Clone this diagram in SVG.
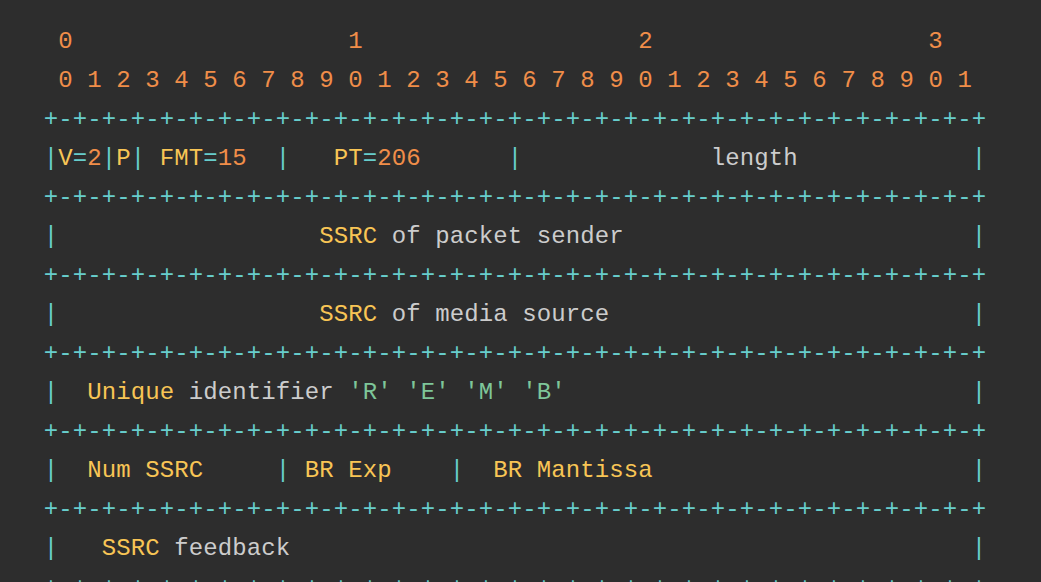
<svg xmlns="http://www.w3.org/2000/svg" width="1041" height="582" viewBox="0 0 1041 582">
<style>
text{font-family:"Liberation Mono","DejaVu Sans Mono",monospace;font-size:24px;letter-spacing:0.1px;white-space:pre}
.o{fill:#f08d49}.y{fill:#f8c555}.c{fill:#67cdcc}.g{fill:#cccccc}.s{fill:#7ec699}
</style>
<defs>
<text id="bd" class="c"><tspan x="43.75">+-+-+-+-+-+-+-+-</tspan><tspan x="275.75">+-+-+-+-+-+-+-+-</tspan><tspan x="507.75">+-+-+-+-+-+-+-+-</tspan><tspan x="739.75">+-+-+-+-+-+-+-+-</tspan><tspan x="971.75">+</tspan></text>
</defs>
<rect x="0" y="0" width="1041" height="582" fill="#2d2d2d"/>
<g id="bit-header">
<text y="48" class="o"><tspan x="58.25">0</tspan><tspan x="348.25">1</tspan><tspan x="638.25">2</tspan><tspan x="928.25">3</tspan></text>
<text x="58.25" y="87" class="o" xml:space="preserve">0 1 2 3 4 5 6 7 8 9 0 1 2 3 4 5 6 7 8 9 0 1 2 3 4 5 6 7 8 9 0 1</text>
</g>
<g id="borders">
<use href="#bd" y="126"/>
<use href="#bd" y="204"/>
<use href="#bd" y="282"/>
<use href="#bd" y="360"/>
<use href="#bd" y="438"/>
<use href="#bd" y="516"/>
<use href="#bd" y="594"/>
</g>
<g id="row-header">
<text y="165"><tspan x="43.75" class="c">|</tspan><tspan x="58.25" class="y">V</tspan><tspan x="72.75" class="c">=</tspan><tspan x="87.25" class="o">2</tspan><tspan x="101.75" class="c">|</tspan><tspan x="116.25" class="y">P</tspan><tspan x="130.75" class="c">|</tspan><tspan x="159.75" class="y">FMT</tspan><tspan x="203.25" class="c">=</tspan><tspan x="217.75" class="o">15</tspan><tspan x="275.75" class="c">|</tspan><tspan x="333.75" class="y">PT</tspan><tspan x="362.75" class="c">=</tspan><tspan x="377.25" class="o">206</tspan><tspan x="507.75" class="c">|</tspan><tspan x="710.75" class="g">length</tspan><tspan x="971.75" class="c">|</tspan></text>
</g>
<g id="row-ssrc-sender">
<text y="243"><tspan x="43.75" class="c">|</tspan><tspan x="319.25" class="y">SSRC</tspan><tspan x="391.75" class="g">of packet sender</tspan><tspan x="971.75" class="c">|</tspan></text>
</g>
<g id="row-ssrc-media">
<text y="321"><tspan x="43.75" class="c">|</tspan><tspan x="319.25" class="y">SSRC</tspan><tspan x="391.75" class="g">of media source</tspan><tspan x="971.75" class="c">|</tspan></text>
</g>
<g id="row-identifier">
<text y="399"><tspan x="43.75" class="c">|</tspan><tspan x="87.25" class="y">Unique</tspan><tspan x="188.75" class="g">identifier</tspan><tspan x="348.25" class="s">'R'</tspan><tspan x="406.25" class="s">'E'</tspan><tspan x="464.25" class="s">'M'</tspan><tspan x="522.25" class="s">'B'</tspan><tspan x="971.75" class="c">|</tspan></text>
</g>
<g id="row-bitrate">
<text y="477"><tspan x="43.75" class="c">|</tspan><tspan x="87.25" class="y">Num SSRC</tspan><tspan x="275.75" class="c">|</tspan><tspan x="304.75" class="y">BR Exp</tspan><tspan x="449.75" class="c">|</tspan><tspan x="493.25" class="y">BR Mantissa</tspan><tspan x="971.75" class="c">|</tspan></text>
</g>
<g id="row-feedback">
<text y="555"><tspan x="43.75" class="c">|</tspan><tspan x="101.75" class="y">SSRC</tspan><tspan x="174.25" class="g">feedback</tspan><tspan x="971.75" class="c">|</tspan></text>
</g>
</svg>
